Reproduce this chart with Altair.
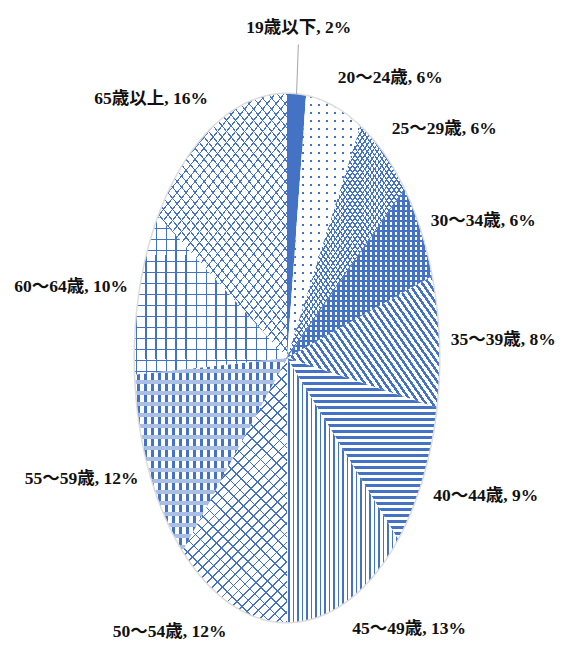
import math
import pandas as pd
import altair as alt

# ---------------- data ----------------
categories = ["19歳以下", "20～24歳", "25～29歳", "30～34歳", "35～39歳", "40～44歳",
              "45～49歳", "50～54歳", "55～59歳", "60～64歳", "65歳以上"]
percents = [2, 6, 6, 6, 8, 9, 13, 12, 12, 10, 16]

df = pd.DataFrame({"idx": list(range(len(categories))), "cat": categories, "pct": percents})

# ---------------- geometry / style ----------------
W, H = 549, 638
CX, CY = 279, 350
RX, RY = 152, 264
xs = alt.Scale(domain=[-CX / RX, (W - CX) / RX], nice=False, zero=False)
ys = alt.Scale(domain=[-(H - CY) / RY, CY / RY], nice=False, zero=False)

BLUE = "#4472C4"
LIGHT = "#a9bfe6"
WHITE = "#ffffff"
CLEAR = "rgba(255,255,255,0)"
FONT = "Liberation Serif, Noto Sans CJK JP"
NSEG = 60


def bbox(i):
    tot = sum(percents)
    c0 = sum(percents[:i]) / tot * 2 * math.pi
    c1 = sum(percents[:i + 1]) / tot * 2 * math.pi
    pts = [(0.0, 0.0)]
    for s in range(41):
        a = c0 + (c1 - c0) * s / 40
        pts.append((RX * math.sin(a), -RY * math.cos(a)))
    xs_ = [p[0] for p in pts]
    ys_ = [p[1] for p in pts]
    return max(max(xs_) - min(xs_), 1.0), max(max(ys_) - min(ys_), 1.0)


def stripes(i, angle, period, frac, line_col, bg_col):
    w, h = bbox(i)
    a = math.radians(angle)
    dx, dy = math.cos(a), math.sin(a)
    gx, gy = -dy / h, dx / w
    gl = math.hypot(gx, gy)
    gx, gy = gx / gl, gy / gl
    e = max(abs((cx - 0.5) * gx + (cy - 0.5) * gy) for cx in (0, 1) for cy in (0, 1))
    x1, y1 = 0.5 - gx * e, 0.5 - gy * e
    x2, y2 = 0.5 + gx * e, 0.5 + gy * e
    nx, ny = -math.sin(a), math.cos(a)
    L = abs((x2 - x1) * w * nx + (y2 - y1) * h * ny)
    n = max(L / period, 1.0)
    stops = []
    j = 0
    while j / n < 1:
        o0 = j / n
        o1 = min((j + frac) / n, 1.0)
        o2 = min((j + 1) / n, 1.0)
        stops += [alt.GradientStop(offset=o0, color=line_col),
                  alt.GradientStop(offset=o1, color=line_col),
                  alt.GradientStop(offset=o1, color=bg_col),
                  alt.GradientStop(offset=o2, color=bg_col)]
        j += 1
    return alt.LinearGradient(gradient="linear", stops=stops, x1=x1, y1=y1, x2=x2, y2=y2)


patterns = {
    0: [BLUE],
    1: [stripes(1, 90, 8, 0.22, BLUE, WHITE), stripes(1, 0, 8, 0.22, CLEAR, WHITE)],
    2: [stripes(2, 55, 4, 0.3, BLUE, WHITE), stripes(2, 125, 4, 0.3, BLUE, CLEAR)],
    3: [stripes(3, 90, 5, 0.4, WHITE, BLUE), stripes(3, 0, 5, 0.55, BLUE, CLEAR)],
    4: [stripes(4, 55, 5.5, 0.45, BLUE, WHITE)],
    5: [stripes(5, 0, 6, 0.45, BLUE, WHITE)],
    6: [stripes(6, 90, 4.5, 0.35, BLUE, WHITE)],
    7: [stripes(7, 135, 7, 0.18, BLUE, WHITE), stripes(7, 45, 9, 0.13, BLUE, CLEAR)],
    8: [stripes(8, 90, 7, 0.4, BLUE, WHITE), stripes(8, 0, 11, 0.35, LIGHT, CLEAR)],
    9: [stripes(9, 90, 10, 0.15, BLUE, WHITE), stripes(9, 0, 11, 0.15, BLUE, CLEAR)],
    10: [stripes(10, 51, 7, 0.15, BLUE, WHITE), stripes(10, 129, 7, 0.15, BLUE, CLEAR)],
}

# ---------------- base transforms ----------------
base = (
    alt.Chart(df)
    .transform_window(cum="sum(pct)", sort=[alt.SortField("idx")], frame=[None, 0])
    .transform_joinaggregate(total="sum(pct)")
    .transform_calculate(
        a0="2*PI*(datum.cum - datum.pct)/datum.total",
        a1="2*PI*datum.cum/datum.total",
    )
)

poly = (
    base.transform_calculate(steps=f"sequence(0, {NSEG + 2})")
    .transform_flatten(["steps"], as_=["k"])
    .transform_calculate(
        ang=f"datum.a0 + (datum.a1 - datum.a0)*(datum.k - 1)/{NSEG}",
        r="datum.k == 0 ? 0 : 1",
    )
    .transform_calculate(px="datum.r*sin(datum.ang)", py="datum.r*cos(datum.ang)")
)

layers = []

# faint soft edge around the pie
layers.append(
    poly.transform_filter("datum.k >= 1")
    .mark_line(stroke="#cfcfcf", strokeWidth=3, strokeOpacity=0.7)
    .encode(
        x=alt.X("px:Q", scale=xs, axis=None),
        y=alt.Y("py:Q", scale=ys, axis=None),
        order=alt.Order("k:Q"),
        detail="cat:N",
    )
)

for i, cat in enumerate(categories):
    for fill in patterns[i]:
        layers.append(
            poly.transform_filter(alt.datum.cat == cat)
            .mark_line(fill=fill, strokeWidth=0, strokeOpacity=0, interpolate="linear-closed")
            .encode(
                x=alt.X("px:Q", scale=xs, axis=None),
                y=alt.Y("py:Q", scale=ys, axis=None),
                order=alt.Order("k:Q"),
            )
        )

lab = base.transform_calculate(
    mid="(datum.a0 + datum.a1)/2",
    rr="datum.pct < 3 ? 1.22 : 1.08",
    lx="datum.rr*sin(datum.mid)",
    ly="datum.rr*cos(datum.mid)",
    lx0="sin(datum.mid)",
    ly0="cos(datum.mid)",
    lx1="1.19*sin(datum.mid)",
    ly1="1.19*cos(datum.mid)",
    label="datum.cat + ', ' + datum.pct + '%'",
    al="datum.pct < 3 ? 'center' : (sin(datum.mid) > 0 ? 'left' : 'right')",
    bl="datum.pct < 3 ? 'bottom' : (cos(datum.mid) > 0.6 ? 'bottom' : (cos(datum.mid) < -0.45 ? 'top' : 'middle'))",
)

layers.append(
    lab.transform_filter("datum.pct < 3")
    .mark_rule(color="#a6a6a6", strokeWidth=1)
    .encode(
        x=alt.X("lx0:Q", scale=xs, axis=None),
        y=alt.Y("ly0:Q", scale=ys, axis=None),
        x2="lx1:Q",
        y2="ly1:Q",
    )
)

for al in ["left", "center", "right"]:
    for bl in ["top", "middle", "bottom"]:
        layers.append(
            lab.transform_filter(f"datum.al == '{al}' && datum.bl == '{bl}'")
            .mark_text(align=al, baseline=bl, font=FONT, fontSize=17.5, fontWeight="bold", color="#111111")
            .encode(
                x=alt.X("lx:Q", scale=xs, axis=None),
                y=alt.Y("ly:Q", scale=ys, axis=None),
                text="label:N",
            )
        )

chart = (
    alt.layer(*layers)
    .properties(width=W, height=H, autosize=alt.AutoSizeParams(type="none"), padding=0, background="white")
    .configure_view(strokeWidth=0)
)

chart.save("out.html", embed_options={"renderer": "svg", "actions": False})
